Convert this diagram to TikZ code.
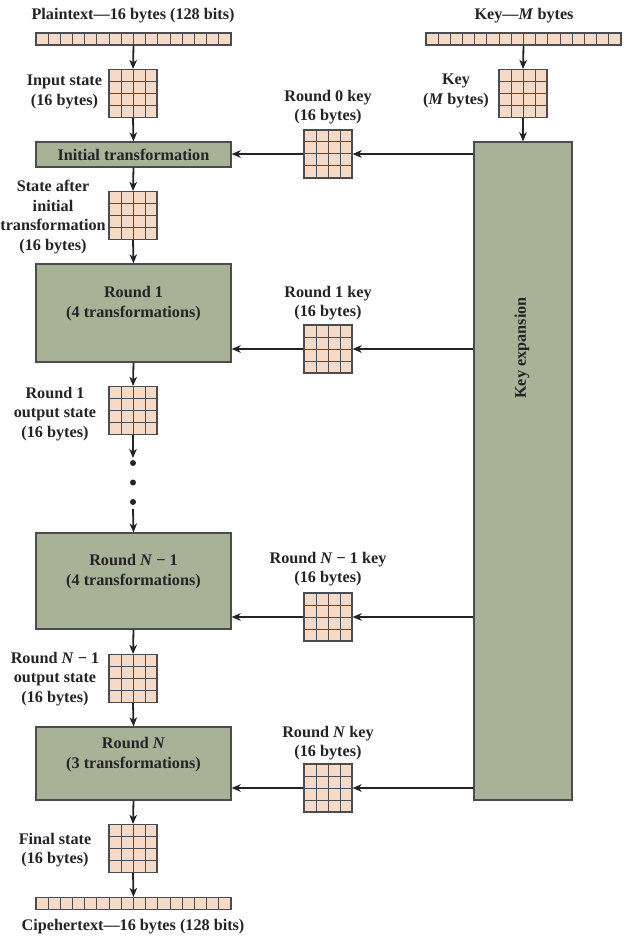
\documentclass[tikz,border=0pt]{standalone}
\usepackage{fontspec}
\setmainfont{Liberation Serif}
\usetikzlibrary{arrows.meta,calc}
\definecolor{peach}{RGB}{246,218,200}
\definecolor{sage}{RGB}{168,178,150}
\definecolor{ink}{RGB}{35,35,40}
\definecolor{linegray}{RGB}{75,75,80}
\tikzset{
  lbl/.style={font=\fontsize{16.2}{19.5}\selectfont\bfseries, text=ink, align=center, inner sep=0pt},
  cellgrid/.style={draw=linegray, line width=1.1pt, fill=peach, minimum width=48pt, minimum height=48pt, inner sep=0pt,
    path picture={
      \foreach \f in {0.25,0.5,0.75}{
        \draw[linegray, line width=1pt] ($(path picture bounding box.north west)!\f!(path picture bounding box.north east)$) -- ($(path picture bounding box.south west)!\f!(path picture bounding box.south east)$);
        \draw[linegray, line width=1pt] ($(path picture bounding box.north west)!\f!(path picture bounding box.south west)$) -- ($(path picture bounding box.north east)!\f!(path picture bounding box.south east)$);
      }
    }},
  bytebar/.style={draw=linegray, line width=1.1pt, fill=peach, minimum width=195pt, minimum height=12pt, inner sep=0pt,
    path picture={
      \foreach \k in {1,...,15}{
        \draw[linegray, line width=1pt] ($(path picture bounding box.north west)!\k/16!(path picture bounding box.north east)$) -- ($(path picture bounding box.south west)!\k/16!(path picture bounding box.south east)$);
      }
    }},
  stagebox/.style={draw=linegray, line width=1.2pt, fill=sage, minimum width=195pt, inner sep=0pt,
    font=\fontsize{16.2}{20.5}\selectfont\bfseries, text=ink, align=center},
  flow/.style={draw=ink, line width=1.8pt, -{Stealth[length=9pt,width=7.5pt,inset=2.5pt]}},
  dotmark/.style={circle, fill=ink, inner sep=0pt, minimum size=6pt}
}
\begin{document}
\begin{tikzpicture}[x=1pt,y=-1pt]
\useasboundingbox (0,0) rectangle (623,941);

% left column
\node[lbl] (ptl) at (133,16) {Plaintext—16 bytes (128 bits)};
\node[bytebar] (pt) at (133.5,39) {};
\node[cellgrid] (is) at (133,93.5) {};
\node[lbl] (isl) at (64.5,92) {Input state\\(16 bytes)};
\node[stagebox, minimum height=25pt] (it) at (133.5,154.5) {Initial transformation};
\node[cellgrid] (sai) at (133,215.5) {};
\node[lbl] (sail) at (53,217) {State after\\initial\\transformation\\(16 bytes)};
\node[stagebox, minimum height=98pt] (r1) at (133.5,313) {Round 1\\(4 transformations)\\[2pt]};
\node[cellgrid] (r1o) at (133,410.5) {};
\node[lbl] (r1ol) at (55,414) {Round 1\\output state\\(16 bytes)};
\node[dotmark] (d1) at (133,463) {};
\node[dotmark] (d2) at (133,482.5) {};
\node[dotmark] (d3) at (133,502) {};
\coordinate (dtop) at (133,458);
\coordinate (dbot) at (133,509);
\node[stagebox, minimum height=96pt] (rn1) at (133.5,581) {Round \textit{N} − 1\\(4 transformations)\\[2pt]};
\node[cellgrid] (rn1o) at (133,678.5) {};
\node[lbl] (rn1ol) at (55,679) {Round \textit{N} − 1\\output state\\(16 bytes)};
\node[stagebox, minimum height=73pt] (rn) at (133.5,763.5) {Round \textit{N}\\(3 transformations)\\[1pt]};
\node[cellgrid] (fs) at (133,848.5) {};
\node[lbl] (fsl) at (55,850) {Final state\\(16 bytes)};
\node[bytebar] (ct) at (133.5,903.5) {};
\node[lbl] (ctl) at (133,927) {Cipehertext—16 bytes (128 bits)};

% right column
\node[lbl] (kl) at (524,16) {Key—\textit{M} bytes};
\node[bytebar] (kb) at (523.5,39) {};
\node[cellgrid] (kg) at (523,93.5) {};
\node[lbl] (kgl) at (456,91) {Key\\(\textit{M} bytes)};
\node[draw=linegray, line width=1.2pt, fill=sage, minimum width=98pt, minimum height=658pt, inner sep=0pt] (ke) at (523,471) {};
\node[lbl, rotate=90] (kel) at (522,348) {Key expansion};

% round keys
\node[cellgrid] (k0) at (328,154) {};
\node[lbl] (k0l) at (328,107) {Round 0 key\\(16 bytes)};
\node[cellgrid] (k1) at (328,349) {};
\node[lbl] (k1l) at (328,303) {Round 1 key\\(16 bytes)};
\node[cellgrid] (kn1) at (328,617) {};
\node[lbl] (kn1l) at (328,569) {Round \textit{N} − 1 key\\(16 bytes)};
\node[cellgrid] (kn) at (328,788) {};
\node[lbl] (knl) at (328,743) {Round \textit{N} key\\(16 bytes)};

% main flow
\draw[flow] (pt.south) -- (is.north);
\draw[flow] (is.south) -- (it.north);
\draw[flow] (it.south) -- (sai.north);
\draw[flow] (sai.south) -- (r1.north);
\draw[flow] (r1.south) -- (r1o.north);
\draw[flow] (r1o.south) -- (dtop);
\draw[flow] (dbot) -- (rn1.north);
\draw[flow] (rn1.south) -- (rn1o.north);
\draw[flow] (rn1o.south) -- (rn.north);
\draw[flow] (rn.south) -- (fs.north);
\draw[flow] (fs.south) -- (ct.north);

% key flow
\draw[flow] (kb.south) -- (kg.north);
\draw[flow] (kg.south) -- (ke.north);
\draw[flow] (k0 -| ke.west) -- (k0.east);
\draw[flow] (k0.west) -- (k0 -| it.east);
\draw[flow] (k1 -| ke.west) -- (k1.east);
\draw[flow] (k1.west) -- (k1 -| r1.east);
\draw[flow] (kn1 -| ke.west) -- (kn1.east);
\draw[flow] (kn1.west) -- (kn1 -| rn1.east);
\draw[flow] (kn -| ke.west) -- (kn.east);
\draw[flow] (kn.west) -- (kn -| rn.east);
\end{tikzpicture}
\end{document}
